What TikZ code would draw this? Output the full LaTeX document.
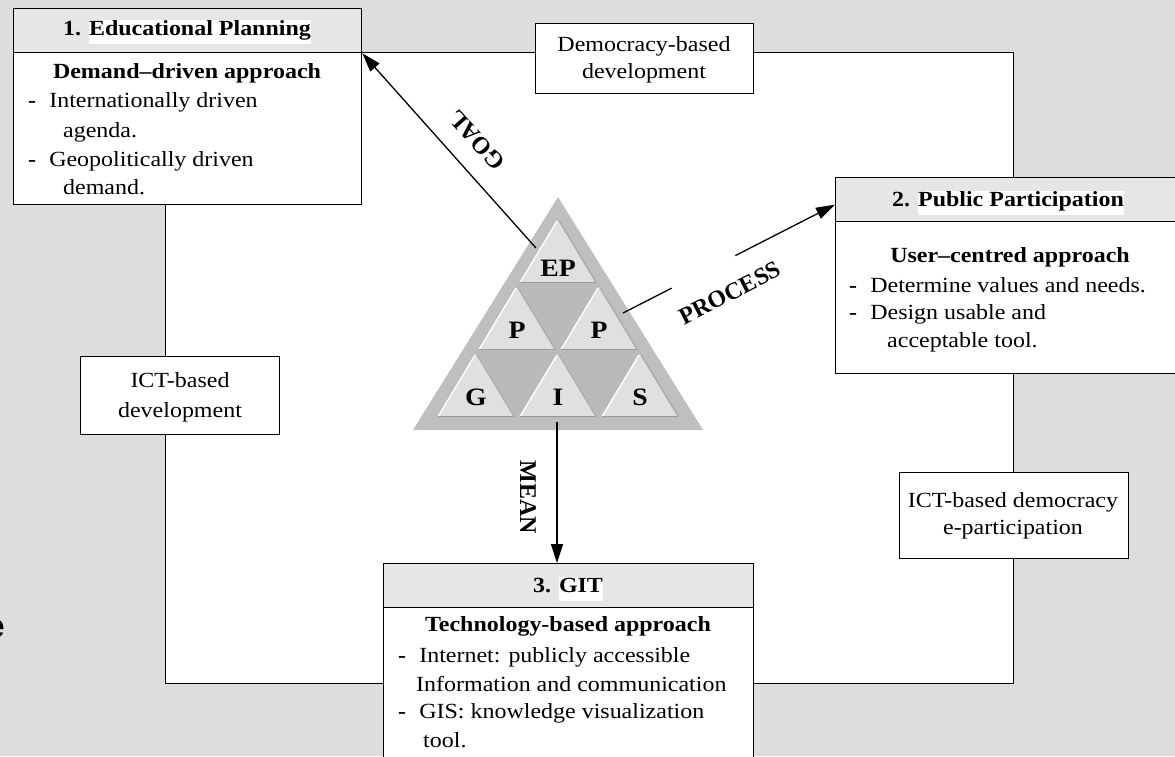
\documentclass[tikz,border=0pt]{standalone}
\usepackage{fontspec}
\setmainfont{Liberation Serif}
\setsansfont{Liberation Sans}
\usepackage{graphicx}
\usetikzlibrary{arrows.meta,calc}
\definecolor{bg}{HTML}{DDDDDD}
\definecolor{hdrfill}{HTML}{E6E6E6}
\definecolor{triout}{HTML}{BFBFBF}
\definecolor{trilight}{HTML}{E0E0E0}
\definecolor{tridark}{HTML}{BABABA}
\definecolor{bevel}{HTML}{9A9A9A}
\newcommand\sx[1]{\scalebox{1.11}[1]{#1}}
\newcommand\hl[1]{{\setlength\fboxsep{0pt}\colorbox{white}{\rule[-9pt]{0pt}{24pt}#1}}}
\newcommand\bfont{\fontsize{21.6}{28.5}\selectfont}
\newcommand\dsh{\makebox[19pt][l]{\textbf{-}}}
\begin{document}
\begin{tikzpicture}[x=1pt,y=1pt,
  bodybox/.style={draw=black, fill=white, line width=1.3pt, anchor=north west, inner sep=0, rectangle},
  hdr/.style={draw=black, fill=hdrfill, line width=1.3pt, anchor=north west, inner sep=0, rectangle},
  txt/.style={inner sep=0, font=\bfont, anchor=base},
  btxt/.style={inner sep=0, font=\bfont\bfseries, anchor=base},
  ltxt/.style={inner sep=0, font=\bfont, anchor=base west},
  conn/.style={line width=1.3pt, -{Triangle[length=19pt,width=12pt]}},
  plain/.style={line width=1.3pt},
  clab/.style={inner sep=0, font=\fontsize{24}{28}\selectfont\bfseries},
  tlab/.style={inner sep=0, font=\fontsize{25}{30}\selectfont\bfseries}]
\clip (0,0) rectangle (1175,-756);
\fill[bg] (0,0) rectangle (1175,-756);
% partially visible letter at the left edge
\node[inner sep=0, anchor=base east, font=\fontsize{33}{36}\selectfont\sffamily\bfseries] (edge) at (5,-637) {e};
% outer frame
\node[bodybox, minimum width=848pt, minimum height=631pt] (frame) at (165,-52) {};
% side labels
\node[bodybox, minimum width=218pt, minimum height=70pt] (dem) at (535,-23) {};
\node[txt] (dem1) at (644,-51) {\sx{Democracy-based}};
\node[txt] (dem2) at (644,-78) {\sx{development}};
\node[bodybox, minimum width=199pt, minimum height=78pt] (ict) at (80,-356) {};
\node[txt] (ict1) at (180,-387) {\sx{ICT-based}};
\node[txt] (ict2) at (180,-417) {\sx{development}};
\node[bodybox, minimum width=229pt, minimum height=86pt] (ictd) at (899,-472) {};
\node[txt] (ictd1) at (1013,-507) {\sx{ICT-based democracy}};
\node[txt] (ictd2) at (1013,-534) {\sx{e-participation}};
% box 1
\node[bodybox, minimum width=348pt, minimum height=152pt] (b1) at (13,-52) {};
\node[hdr, minimum width=348pt, minimum height=44pt] (h1) at (13,-8) {};
\node[btxt] (h1t) at (187,-35) {\sx{1. \hl{Educational Planning}}};
\node[btxt] (t1) at (187,-78) {\sx{Demand--driven approach}};
\node[ltxt] (l11) at (28,-107) {\sx{\dsh Internationally driven}};
\node[ltxt] (l12) at (63,-137) {\sx{agenda.}};
\node[ltxt] (l13) at (28,-166) {\sx{\dsh Geopolitically driven}};
\node[ltxt] (l14) at (63,-194) {\sx{demand.}};
% box 2
\node[bodybox, minimum width=347pt, minimum height=152pt] (b2) at (835,-221) {};
\node[hdr, minimum width=347pt, minimum height=44pt] (h2) at (835,-177) {};
\node[btxt] (h2t) at (1008,-206) {\sx{2. \hl{Public Participation}}};
\node[btxt] (t2) at (1010,-262) {\sx{User--centred approach}};
\node[ltxt] (l21) at (849,-292) {\sx{\dsh Determine values and needs.}};
\node[ltxt] (l22) at (849,-319) {\sx{\dsh Design usable and}};
\node[ltxt] (l23) at (887,-347) {\sx{acceptable tool.}};
% box 3
\node[bodybox, minimum width=370pt, minimum height=170pt] (b3) at (383,-607) {};
\node[hdr, minimum width=370pt, minimum height=44pt] (h3) at (383,-563) {};
\node[btxt] (h3t) at (568,-592) {\sx{3. \hl{GIT}}};
\node[btxt] (t3) at (568,-631) {\sx{Technology-based approach}};
\node[ltxt] (l31) at (398,-662) {\sx{\dsh Internet: publicly accessible}};
\node[ltxt] (l32) at (416,-691) {\sx{Information and communication}};
\node[ltxt] (l33) at (398,-718) {\sx{\dsh GIS: knowledge visualization}};
\node[ltxt] (l34) at (423,-747) {\sx{tool.}};
% triangle
\fill[triout] (558,-197) -- (413,-430) -- (703,-430) -- cycle;
\fill[tridark] (558,-217) -- (435,-418) -- (681,-418) -- cycle;
\foreach \r in {0,1,2}{
  \foreach \k in {0,...,\r}{
    \pgfmathsetmacro\ax{558+(2*\k-\r)*41}
    \pgfmathsetmacro\ay{-217-\r*67}
    \fill[trilight] (\ax,\ay-3) -- (\ax-38,\ay-65.5) -- (\ax+38,\ay-65.5) -- cycle;
    \draw[white, line width=1.4pt] (\ax-38,\ay-65.5) -- (\ax-1,\ay-4);
    \draw[bevel, line width=1.6pt] (\ax-38,\ay-65.5) -- (\ax+38,\ay-65.5);
    \draw[bevel!80!trilight, line width=1pt] (\ax+38,\ay-65.5) -- (\ax+1,\ay-4);
  }
}
\node[tlab] (tEP) at (558,-268) {\sx{EP}};
\node[tlab] (tP1) at (517,-330) {\sx{P}};
\node[tlab] (tP2) at (599,-330) {\sx{P}};
\node[tlab] (tG) at (476,-397) {\sx{G}};
\node[tlab] (tI) at (558,-397) {\sx{I}};
\node[tlab] (tS) at (640,-397) {\sx{S}};
% connectors
\coordinate (gs) at (536,-248);
\coordinate (ps) at (623,-313);
\coordinate (ms) at (557,-422);
\coordinate (pt) at ([yshift=-5pt]h2.west);
\draw[conn] (gs) -- (h1.south east);
\draw[plain] (ps) -- ($(ps)!0.23!(pt)$);
\draw[conn] ($(ps)!0.53!(pt)$) -- (pt);
\draw[conn] (ms) -- (ms |- h3.north);
\node[clab, rotate=132] (goal) at (477,-140) {GOAL};
\node[clab, rotate=27.2] (proc) at (730,-293) {PROCESS};
\node[clab, rotate=-90] (mean) at (528,-497) {MEAN};
\end{tikzpicture}
\end{document}
